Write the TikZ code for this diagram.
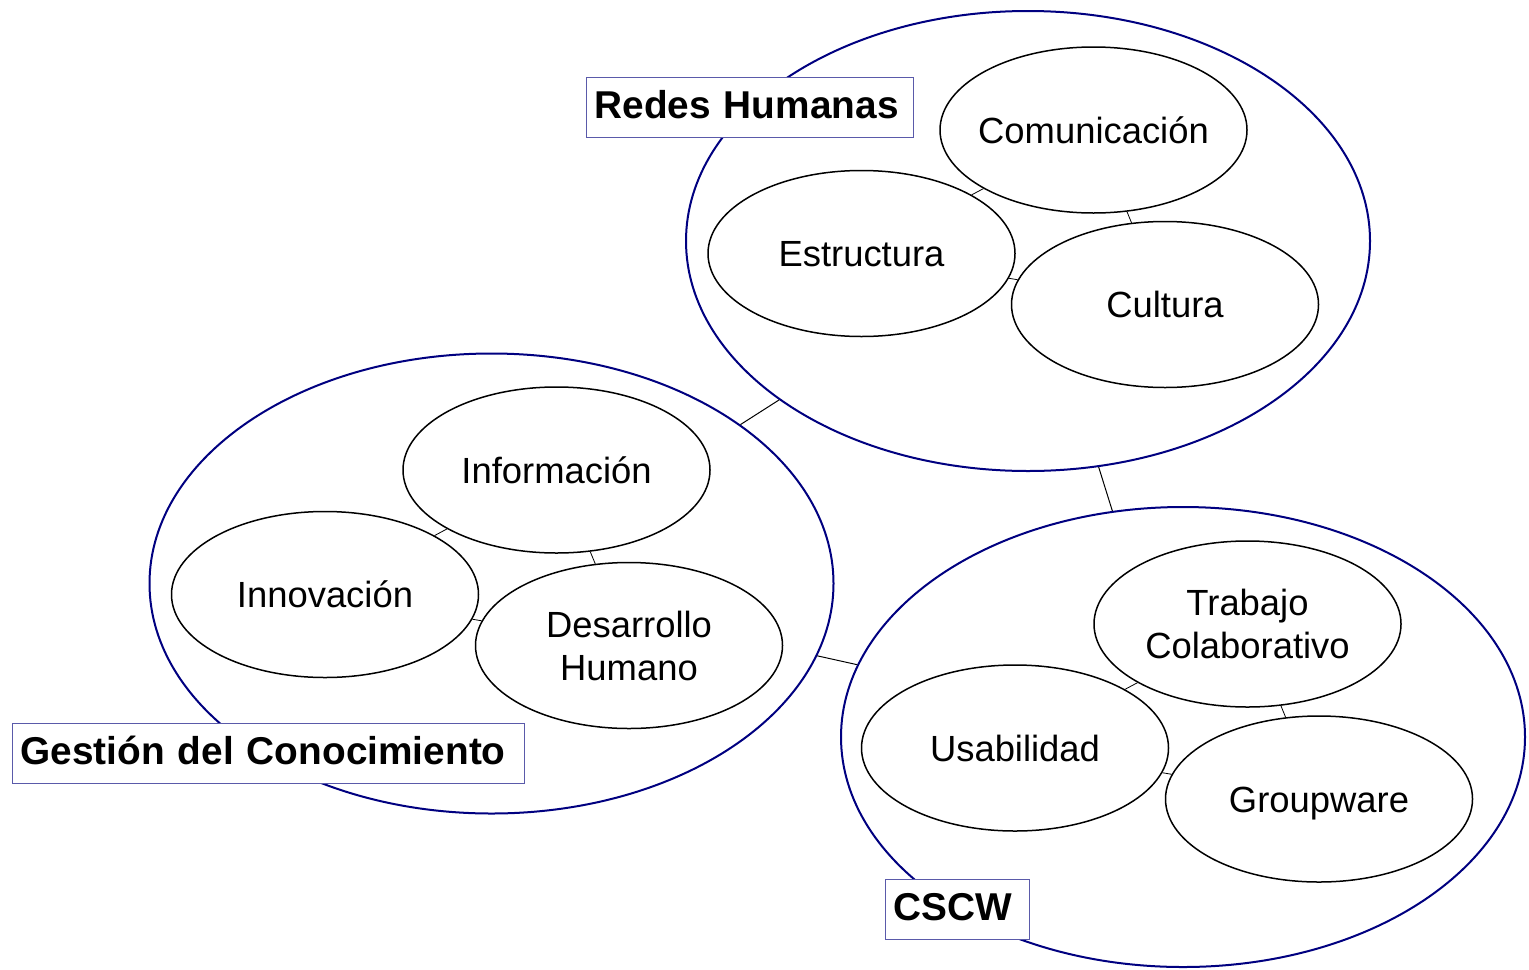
\documentclass[tikz,border=0pt]{standalone}
\usepackage{fontspec}
\setmainfont{Liberation Sans}
\usetikzlibrary{shapes.geometric}
\definecolor{navyline}{RGB}{0,0,128}
\definecolor{boxline}{RGB}{90,90,170}
\tikzset{
  bigell/.style={ellipse, draw=navyline, line width=1pt, minimum width=342pt, minimum height=230pt, inner sep=0pt},
  smallell/.style={ellipse, draw=black, line width=0.75pt, minimum width=153.5pt, minimum height=83pt, inner sep=0pt, fill=white},
  itembase/.style={font=\fontsize{18.2}{21.5}\selectfont, align=center, inner sep=0pt},
  itemtext/.style={itembase, text height=13.3pt, text depth=0pt},
  bigconn/.style={draw=black, line width=0.5pt},
  smallconn/.style={draw=black, line width=0.4pt},
  labelbox/.style={draw=boxline, line width=0.6pt, fill=white, font=\fontsize{19.4}{22}\selectfont\bfseries, align=left, inner xsep=4pt, text height=14pt, text depth=3pt, minimum height=30pt, anchor=north west}
}
\begin{document}
\begin{tikzpicture}[x=0.5pt,y=-0.5pt]
\useasboundingbox[fill=white] (0,0) rectangle (1529,969);
% big ellipses
\node[bigell] (rh) at (1028,241) {};
\node[bigell] (gc) at (491.5,583.5) {};
\node[bigell] (cs) at (1183,737) {};
\path[bigconn] (rh) -- (gc);
\path[bigconn] (rh) -- (cs);
\path[bigconn] (gc) -- (cs);
% Redes Humanas
\node[smallell] (com) at (1093.5,130) {};
\node[smallell] (est) at (861.5,253.5) {};
\node[smallell] (cul) at (1165,304.5) {};
\path[smallconn] (com) -- (est);
\path[smallconn] (com) -- (cul);
\path[smallconn] (est) -- (cul);
\node[itemtext] (tcom) at (com) {Comunicación};
\node[itemtext] (test) at (est) {Estructura};
\node[itemtext] (tcul) at (cul) {Cultura};
% Gestion
\node[smallell] (inf) at (556.5,470) {};
\node[smallell] (inn) at (325,594.5) {};
\node[smallell] (des) at (629,645.5) {};
\path[smallconn] (inf) -- (inn);
\path[smallconn] (inf) -- (des);
\path[smallconn] (inn) -- (des);
\node[itemtext] (tinf) at (inf) {Información};
\node[itemtext] (tinn) at (inn) {Innovación};
\node[itembase] (tdes) at (des) {Desarrollo\\Humano};
% CSCW
\node[smallell] (tra) at (1247.5,624) {};
\node[smallell] (usa) at (1015,748) {};
\node[smallell] (gro) at (1319,799) {};
\path[smallconn] (tra) -- (usa);
\path[smallconn] (tra) -- (gro);
\path[smallconn] (usa) -- (gro);
\node[itembase] (ttra) at (tra) {Trabajo\\Colaborativo};
\node[itemtext] (tusa) at (usa) {Usabilidad};
\node[itemtext] (tgro) at (gro) {Groupware};
% label boxes
\node[labelbox, text width=155.5pt] (lrh) at (586,77) {Redes Humanas};
\node[labelbox, text width=248pt] (lgc) at (12,723) {Gestión del Conocimiento};
\node[labelbox, text width=64pt] (lcs) at (885,879) {CSCW};
\end{tikzpicture}
\end{document}
